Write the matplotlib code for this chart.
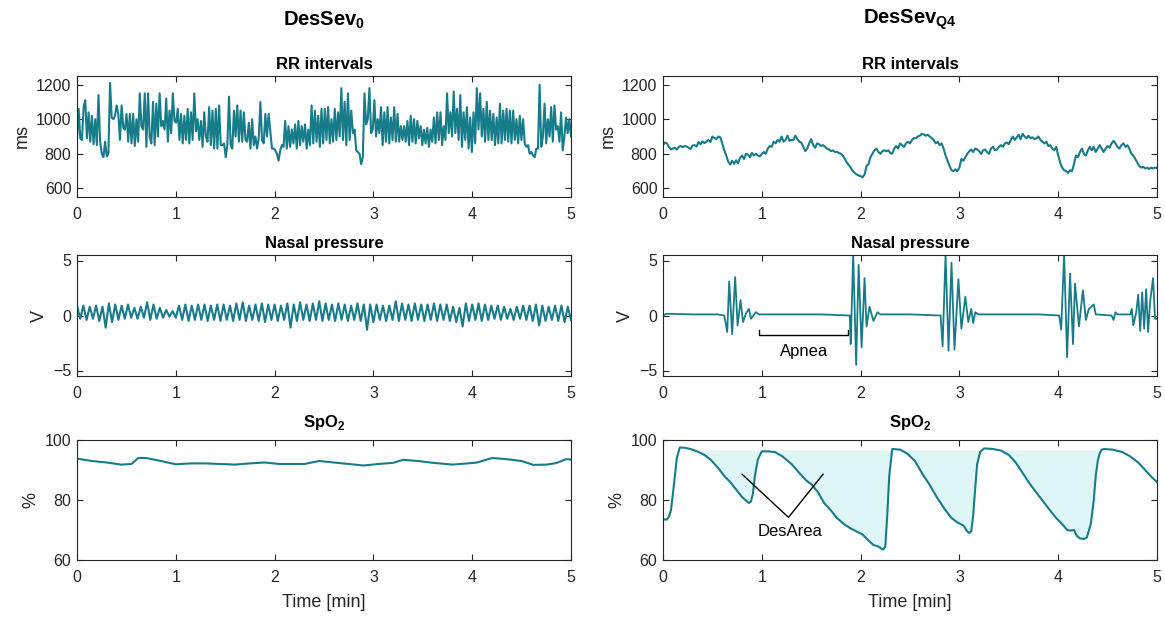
import numpy as np
import matplotlib
matplotlib.use('Agg')
import matplotlib.pyplot as plt

plt.rcParams['font.family'] = ['Liberation Sans', 'DejaVu Sans']
plt.rcParams['mathtext.fontset'] = 'custom'
plt.rcParams['mathtext.rm'] = 'Liberation Sans'
plt.rcParams['mathtext.bf'] = 'Liberation Sans:bold'

# ---------------- data ----------------
col_titles = ['DesSev$_\\mathbf{0}$', 'DesSev$_\\mathbf{Q4}$']
row_titles = ['RR intervals', 'Nasal pressure', 'SpO$_\\mathbf{2}$']
y_labels = ['ms', 'V', '%']
x_ticks = [0, 1, 2, 3, 4, 5]

# Left: RR intervals (ms), evenly sampled over 0-5 min
rr_left = [
    880, 1060, 890, 880, 1070, 1110, 890, 1040, 870, 1020, 855, 1000, 850, 1140, 870,
    800, 780, 870, 785, 800, 1210, 1010, 1000, 1020, 1080, 1030, 880, 1080, 950, 940,
    1030, 870, 1030, 860, 1030, 845, 1000, 870, 1150, 960, 940, 1150, 840, 1150, 900,
    860, 1100, 850, 1090, 900, 1150, 960, 990, 940, 1120, 870, 1050, 920, 1150, 990,
    980, 1060, 880, 1030, 860, 1020, 880, 1060, 860, 1040, 880, 1150, 930, 1000, 880,
    990, 840, 1040, 900, 870, 1070, 850, 1050, 830, 1060, 830, 1080, 850, 850, 860,
    780, 850, 1130, 850, 830, 1050, 900, 1080, 870, 1050, 870, 1040, 880, 870, 980,
    830, 1000, 850, 900, 830, 890, 1100, 880, 860, 1030, 900, 1030, 930, 830, 830,
    820, 800, 760, 820, 850, 840, 990, 830, 960, 840, 940, 860, 970, 830, 990,
    850, 960, 870, 970, 830, 940, 850, 1080, 860, 1050, 870, 1020, 840, 1060, 860,
    1060, 880, 1070, 860, 1000, 870, 1060, 880, 1040, 900, 1180, 880, 1100, 850, 1150,
    880, 1050, 920, 940, 820, 810, 800, 740, 780, 1150, 970, 1000, 1180, 920, 940,
    1110, 900, 1000, 920, 1070, 850, 1040, 870, 1070, 860, 1010, 880, 1070, 870, 1030,
    870, 960, 880, 960, 870, 990, 850, 1020, 870, 1000, 860, 990, 890, 960, 850,
    940, 860, 950, 840, 940, 870, 1010, 860, 1040, 880, 1040, 850, 960, 880, 1150,
    920, 1040, 900, 1160, 920, 1060, 880, 1140, 840, 1040, 880, 1070, 830, 1010, 810,
    1040, 860, 1180, 940, 1150, 900, 1060, 870, 1100, 880, 1050, 880, 1030, 850, 1010,
    860, 1090, 860, 1050, 880, 1060, 870, 1050, 860, 1050, 880, 1000, 860, 1020, 880,
    1000, 860, 840, 850, 800, 810, 790, 780, 830, 830, 1200, 840, 900, 1090, 860,
    1000, 900, 1070, 870, 1080, 940, 960, 870, 1040, 820, 900, 1010, 920, 1000, 900,
]

# Right: RR intervals (ms), evenly sampled every 0.02 min over 0-5 min
rr_right = [
    850, 865, 860, 840, 825, 830, 835, 825, 840, 845,
    838, 845, 842, 835, 828, 848, 850, 842, 868, 855,
    872, 862, 870, 880, 868, 900, 892, 885, 900, 895,
    860, 820, 790, 755, 738, 760, 742, 762, 745, 775,
    790, 770, 800, 795, 780, 805, 790, 800, 790, 785,
    800, 810, 800, 830, 845, 840, 870, 860, 880, 870,
    900, 870, 880, 905, 875, 880, 880, 905, 885, 870,
    865, 840, 815, 830, 860, 885, 850, 835, 860, 855,
    845, 850, 840, 830, 825, 815, 820, 810, 812, 805,
    800, 790, 770, 750, 735, 720, 700, 690, 680, 675,
    670, 665, 680, 730, 740, 780, 800, 820, 830, 810,
    800, 815, 820, 815, 820, 805, 800, 830, 845, 830,
    860, 850, 840, 860, 870, 860, 880, 890, 890, 900,
    905, 915, 912, 905, 910, 900, 890, 880, 860, 870,
    850, 860, 830, 790, 760, 730, 705, 700, 710, 700,
    720, 770, 760, 780, 800, 815, 825, 810, 830, 825,
    815, 800, 820, 825, 810, 800, 830, 840, 820, 825,
    840, 850, 840, 860, 865, 855, 880, 900, 880, 895,
    910, 885, 915, 900, 890, 905, 890, 895, 885, 890,
    900, 880, 870, 860, 870, 845, 850, 830, 820, 840,
    790, 750, 720, 705, 700, 690, 705, 700, 740, 790,
    780, 810, 830, 800, 790, 820, 840, 820, 840, 810,
    830, 850, 830, 810, 830, 845, 835, 860, 875, 860,
    840, 830, 850, 860, 840, 850, 830, 800, 790, 770,
    750, 730, 720, 725, 715, 720, 712, 720, 715, 720,
    718,
]

# Left: nasal pressure (V), breath-by-breath peaks and troughs
nasal_left_peaks = [
    0.9, 0.9, 0.8, 0.9, 0.8, 1.1, 1.0, 0.9, 1.0, 0.7,
    0.8, 1.2, 1.0, 0.7, 0.5, 0.4, 0.9, 1.0, 0.9, 1.0,
    1.0, 0.9, 1.0, 1.0, 0.9, 1.1, 1.2, 0.9, 1.0, 1.1,
    1.0, 1.0, 0.9, 1.1, 1.0, 1.2, 1.0, 1.1, 1.3, 1.1,
    1.0, 1.1, 1.0, 0.9, 1.1, 1.0, 1.0, 1.0, 0.9, 0.9,
    1.3, 1.1, 1.0, 1.1, 1.0, 1.0, 1.1, 1.0, 1.0, 0.8,
    0.7, 1.1, 1.0, 1.1, 1.0, 0.9, 0.9, 0.8, 0.6, 0.8,
    0.9, 0.9, 1.0, 0.9, 0.8, 0.9, 0.9, 0.8,
]
nasal_left_troughs = [
    -0.3, -0.4, -0.3, -0.5, -1.1, -0.6, -0.4, -0.3, -0.2, -0.3,
    -0.2, -0.4, -0.3, -0.2, -0.1, -0.2, -0.4, -0.5, -0.4, -0.4,
    -0.5, -0.4, -0.5, -0.4, -0.5, -0.4, -0.5, -0.4, -0.5, -0.6,
    -0.4, -0.5, -0.4, -1.1, -0.5, -0.4, -0.5, -0.4, -0.5, -0.4,
    -0.5, -0.4, -0.5, -0.4, -0.5, -1.3, -0.6, -0.4, -0.5, -0.4,
    -0.5, -0.4, -0.5, -0.4, -0.5, -0.4, -0.5, -0.4, -0.5, -0.6,
    -1.0, -0.5, -0.4, -0.5, -0.4, -0.3, -0.4, -0.3, -0.4, -0.3,
    -0.4, -0.5, -0.9, -0.5, -0.4, -0.5, -0.6, -0.4,
]

# Right: nasal pressure (time in min, V)
nasal_right_t = [0.00, 0.03, 0.08, 0.30, 0.55, 0.62, 0.65, 0.67, 0.70, 0.73, 0.755,
                 0.785, 0.81, 0.84, 0.87, 0.89, 0.94, 0.97, 1.30, 1.60, 1.89, 1.90,
                 1.925, 1.955, 1.98, 2.01, 2.04, 2.06, 2.09, 2.13, 2.17, 2.20, 2.50,
                 2.81, 2.83, 2.86, 2.89, 2.92, 2.95, 2.99, 3.02, 3.06, 3.09, 3.12,
                 3.14, 3.16, 3.19, 3.50, 3.80, 4.01, 4.03, 4.06, 4.09, 4.12, 4.15,
                 4.17, 4.21, 4.25, 4.28, 4.31, 4.36, 4.38, 4.54, 4.56, 4.58, 4.60,
                 4.73, 4.745, 4.76, 4.79, 4.81, 4.83, 4.85, 4.87, 4.89, 4.91, 4.93,
                 4.96, 4.98, 5.00]
nasal_right = [0.0, 0.15, 0.15, 0.1, 0.1, 0.0, -1.5, 3.1, -1.7, 3.5, -0.9,
               1.4, -0.6, 0.2, 0.6, -0.3, 0.3, 0.1, 0.1, 0.1, 0.0, -2.6,
               5.6, -4.5, 4.6, -2.9, 3.4, -1.0, 0.8, -0.5, 0.3, 0.1, 0.1,
               0.0, -2.8, 5.6, -3.2, 4.8, -3.1, 3.3, -1.2, 1.7, -0.6, 0.6,
               -0.7, 0.3, 0.1, 0.1, 0.1, 0.0, -1.3, 5.6, -3.8, 3.8, -2.6,
               2.9, -1.0, 2.3, -0.4, 0.6, 1.0, 0.1, 0.0, -0.4, 0.3, 0.1,
               0.1, 0.6, -0.9, 0.3, 1.9, -1.4, 2.1, -1.2, 2.4, -1.5, 1.2,
               3.4, -0.3, -0.3]

# Left: SpO2 (%)
spo2_left_t = [0.00, 0.15, 0.30, 0.45, 0.55, 0.62, 0.70, 0.85, 1.00, 1.15, 1.30,
               1.45, 1.60, 1.75, 1.90, 2.05, 2.20, 2.30, 2.45, 2.60, 2.75, 2.90,
               3.05, 3.20, 3.30, 3.45, 3.60, 3.80, 3.95, 4.05, 4.20, 4.35, 4.50,
               4.62, 4.75, 4.85, 4.95, 5.00]
spo2_left = [93.8, 93.0, 92.5, 91.8, 92.0, 94.0, 94.0, 93.0, 91.9, 92.2, 92.2,
             92.0, 91.8, 92.2, 92.5, 92.0, 92.0, 92.0, 93.0, 92.5, 92.0, 91.5,
             92.0, 92.4, 93.4, 93.0, 92.4, 91.8, 92.2, 92.5, 94.0, 93.6, 93.0,
             91.7, 91.8, 92.3, 93.6, 93.5]

# Right: SpO2 (%)
spo2_right_t = [0.00, 0.04, 0.06, 0.08, 0.10, 0.12, 0.14, 0.17, 0.22, 0.28, 0.36,
                0.42, 0.48, 0.55, 0.62, 0.68, 0.74, 0.80, 0.85, 0.87, 0.89, 0.91,
                0.93, 0.96, 1.00, 1.06, 1.13, 1.21, 1.30, 1.38, 1.45, 1.51, 1.57,
                1.63, 1.70, 1.76, 1.83, 1.90, 1.96, 2.02, 2.08, 2.13, 2.18, 2.21,
                2.23, 2.25, 2.27, 2.29, 2.32, 2.40, 2.47, 2.55, 2.62, 2.70, 2.77,
                2.85, 2.92, 2.98, 3.04, 3.08, 3.10, 3.12, 3.14, 3.16, 3.18, 3.21,
                3.25, 3.34, 3.42, 3.50, 3.57, 3.64, 3.71, 3.79, 3.86, 3.93, 3.98,
                4.04, 4.09, 4.13, 4.16, 4.19, 4.22, 4.26, 4.29, 4.33, 4.36, 4.38,
                4.40, 4.42, 4.44, 4.47, 4.55, 4.65, 4.73, 4.81, 4.88, 4.95, 5.00]
spo2_right = [73.5, 73.5, 74.5, 76.5, 82.0, 88.0, 94.0, 97.5, 97.4, 97.0, 96.0,
              95.0, 93.5, 91.0, 88.0, 86.0, 83.5, 81.0, 79.5, 79.0, 79.5, 82.0,
              88.0, 93.5, 96.2, 96.2, 96.0, 94.5, 92.0, 89.0, 86.5, 85.0, 82.5,
              79.0, 76.5, 74.0, 72.0, 70.5, 69.5, 68.5, 66.5, 65.0, 64.5, 63.8,
              63.5, 64.5, 75.0, 88.0, 97.0, 96.8, 95.5, 93.0, 89.0, 85.0, 81.0,
              77.0, 74.0, 72.5, 71.5, 69.5, 69.0, 69.5, 75.0, 84.0, 92.0, 96.0,
              97.2, 97.0, 96.5, 95.0, 92.5, 89.0, 85.5, 82.0, 79.0, 76.0, 74.0,
              72.0, 70.0, 69.8, 70.0, 68.0, 67.2, 67.0, 67.5, 72.0, 80.0, 88.0,
              93.0, 95.5, 96.8, 97.0, 96.8, 96.0, 94.5, 92.5, 90.0, 87.5, 86.0]
des_baseline = 96.5

# ---------------- figure ----------------
W, H = 1165, 618
fig = plt.figure(figsize=(W / 100, H / 100), dpi=100)
LINE = '#177c89'
FILL = '#dff6f6'
SPINE = '#262626'

cols = [(77, 571), (663, 1157)]
rows = [(76, 197), (255, 376), (440, 560)]
ylims = [(550, 1250), (-5.5, 5.5), (60, 100)]
yticks = [[600, 800, 1000, 1200], [-5, 0, 5], [60, 80, 100]]

axes = [[None, None], [None, None], [None, None]]
for r, (top, bot) in enumerate(rows):
    for c, (x0, x1) in enumerate(cols):
        ax = fig.add_axes([x0 / W, 1 - bot / H, (x1 - x0) / W, (bot - top) / H])
        ax.set_xlim(0, 5)
        ax.set_ylim(*ylims[r])
        ax.set_xticks(x_ticks)
        ax.set_yticks(yticks[r])
        ax.tick_params(direction='in', top=True, right=True, length=4,
                       width=0.8, labelsize=11.5, colors=SPINE)
        ax.tick_params(axis='x', pad=7)
        ax.tick_params(axis='y', pad=4)
        for s in ax.spines.values():
            s.set_color(SPINE)
            s.set_linewidth(0.8)
        ax.set_title(row_titles[r], fontsize=12, fontweight='bold',
                     pad=9 if r == 2 else 5)
        ax.set_ylabel(y_labels[r], fontsize=13, color=SPINE)
        if r == 2:
            ax.set_xlabel('Time [min]', fontsize=13, color=SPINE, labelpad=7)
        axes[r][c] = ax

# RR
t_rr_left = np.linspace(0, 5, len(rr_left))
axes[0][0].plot(t_rr_left, rr_left, color=LINE, lw=1.5)
t_rr_right = np.linspace(0, 5, len(rr_right))
axes[0][1].plot(t_rr_right, rr_right, color=LINE, lw=1.5)

# Nasal pressure
zig = []
for p, q in zip(nasal_left_troughs, nasal_left_peaks):
    zig.extend([q, p])
t_nasal_left = np.linspace(0, 5, len(zig))
axes[1][0].plot(t_nasal_left, zig, color=LINE, lw=1.5)
axes[1][1].plot(nasal_right_t, nasal_right, color=LINE, lw=1.3)
ax = axes[1][1]
ax.plot([0.975, 0.975, 1.875, 1.875], [-1.3, -1.8, -1.8, -1.3], color='k', lw=1)
ax.text(1.43, -3.25, 'Apnea', ha='center', va='center', fontsize=12)

# SpO2
axes[2][0].plot(spo2_left_t, spo2_left, color=LINE, lw=1.5)
ax = axes[2][1]
st = np.array(spo2_right_t)
sv = np.array(spo2_right)
mask = (st >= 0.17) & (st <= 4.47)
ax.fill_between(st, sv, des_baseline, where=mask & (sv <= des_baseline),
                color=FILL, lw=0, interpolate=True)
ax.plot(st, sv, color=LINE, lw=1.5)
ax.plot([0.8, 1.27, 1.62], [88.6, 74.2, 88.6], color='k', lw=1)
ax.text(1.29, 69.4, 'DesArea', ha='center', va='center', fontsize=12)

# Column titles
for c, (x0, x1) in enumerate(cols):
    fig.text((x0 + x1) / 2 / W, 1 - 20 / H, col_titles[c], ha='center',
             va='center', fontsize=14.5, fontweight='bold')

fig.savefig('out.png', dpi=100)
